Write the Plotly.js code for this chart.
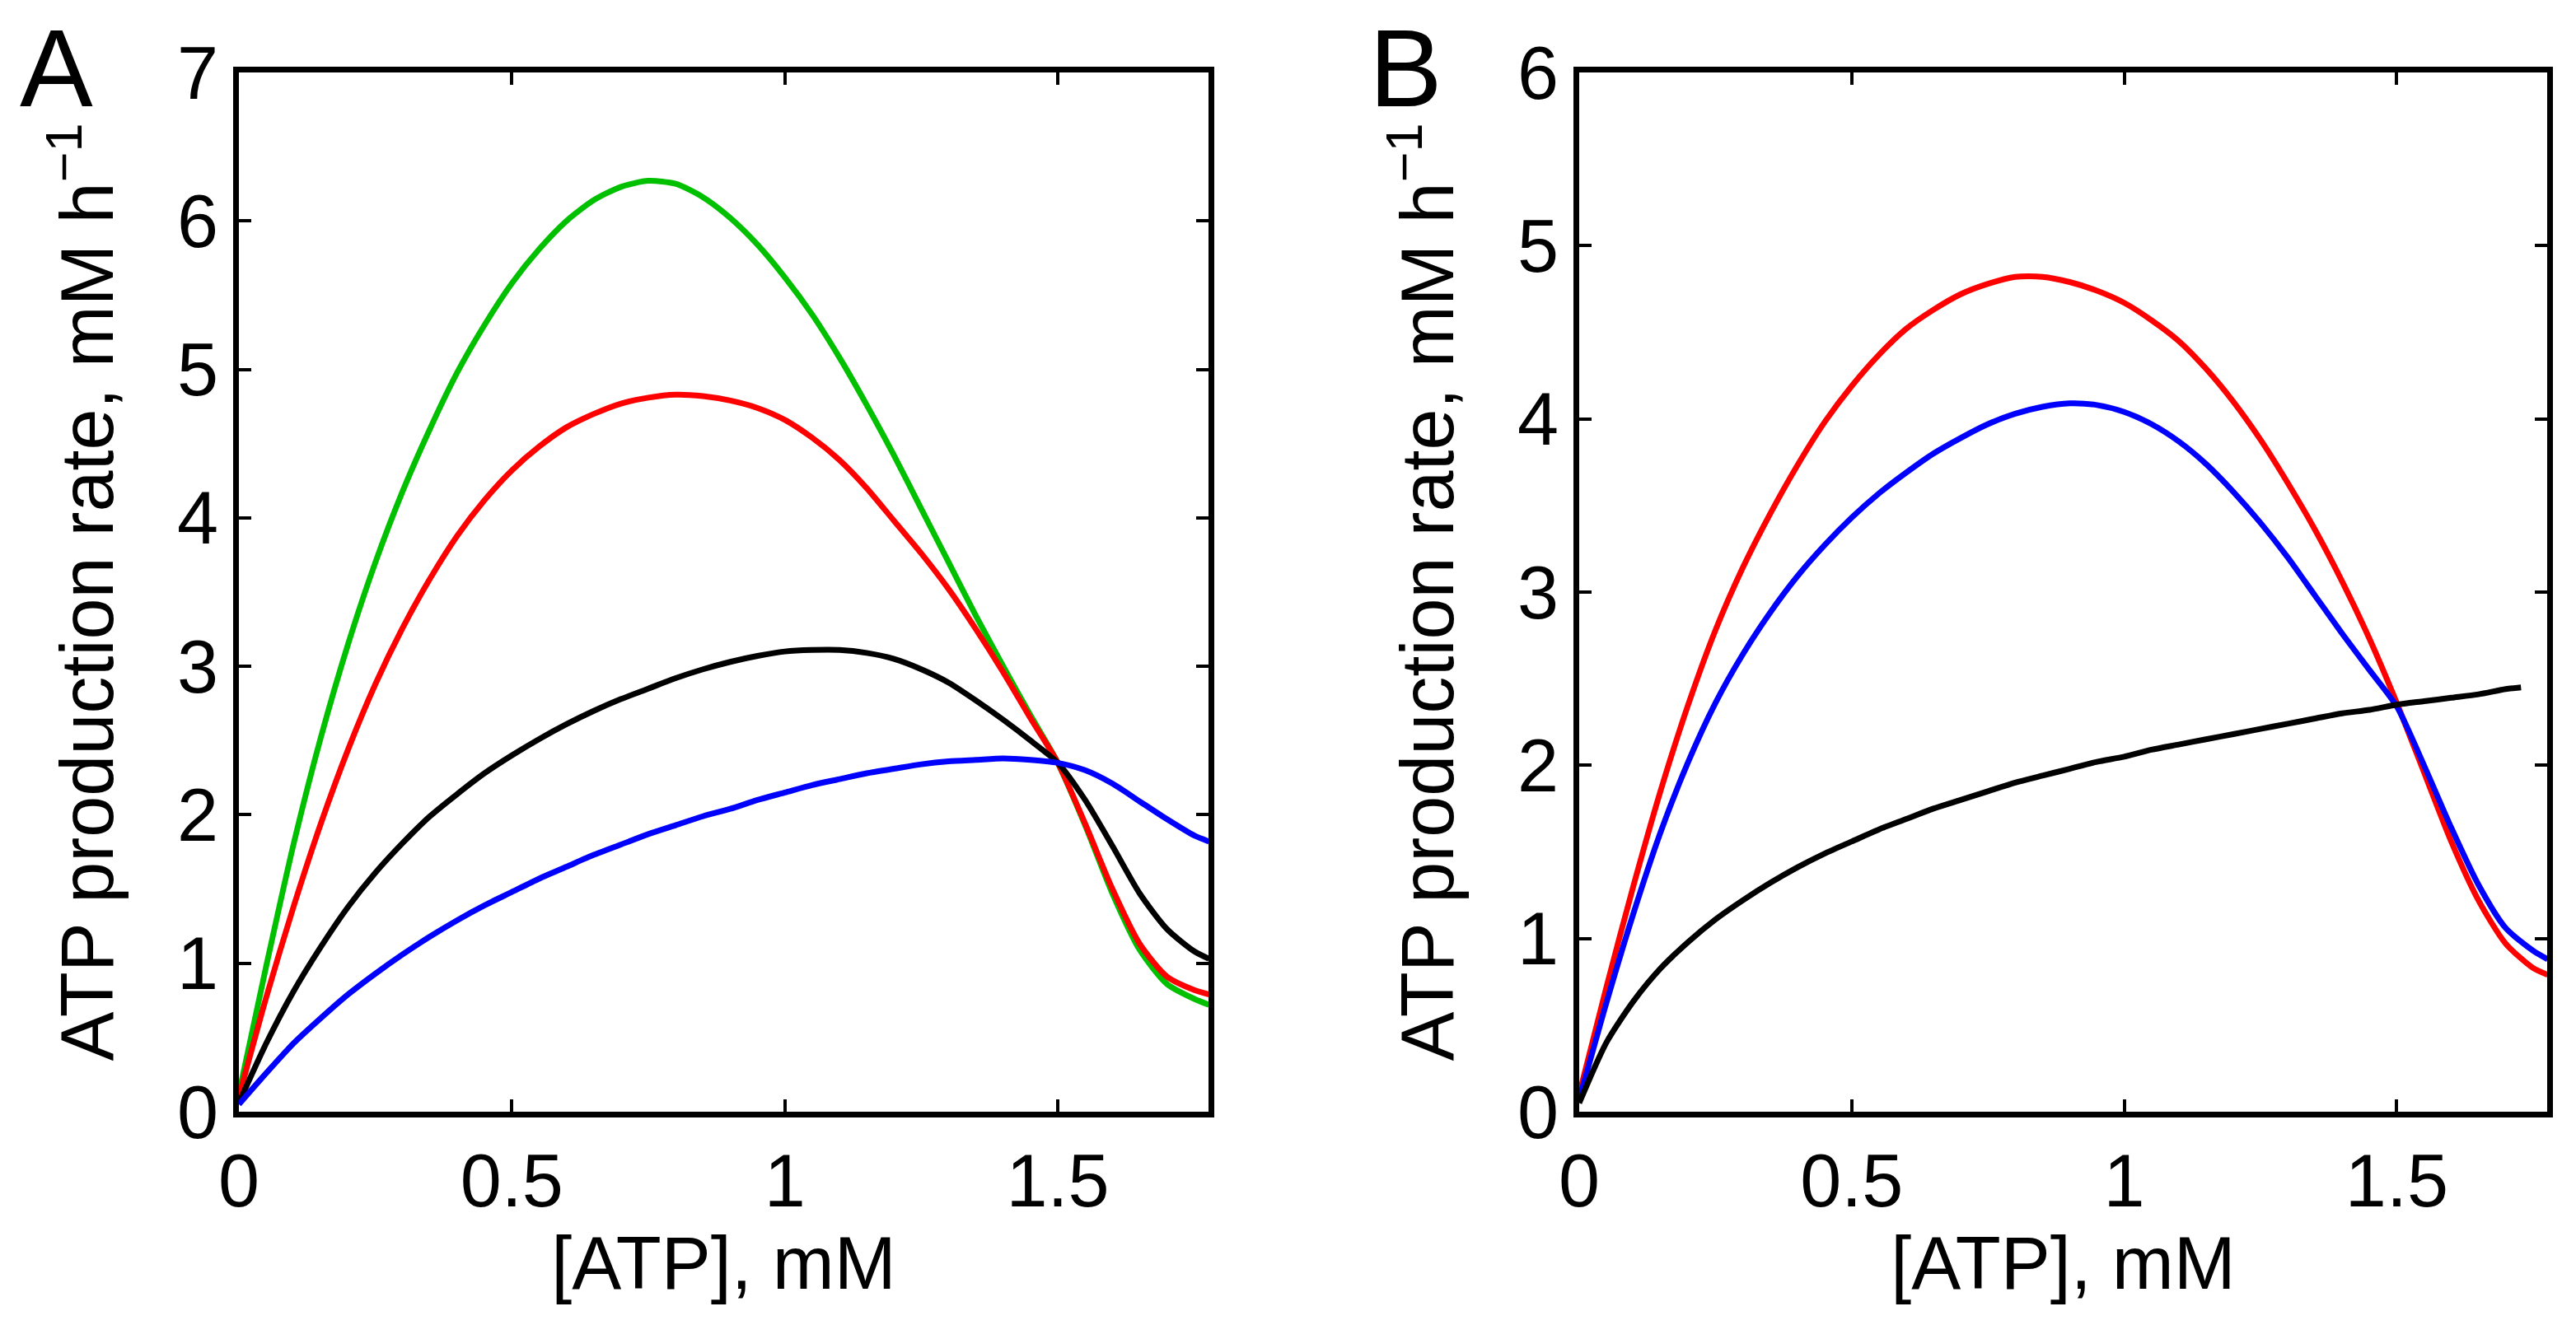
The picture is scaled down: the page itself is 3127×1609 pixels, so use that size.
<!DOCTYPE html>
<html>
<head>
<meta charset="utf-8">
<script src="https://cdn.plot.ly/plotly-3.0.1.min.js"></script>
<style>html,body{margin:0;padding:0;background:#fff;}#chart{width:3127px;height:1609px;}</style>
</head>
<body>
<div id="chart"></div>
<script>
// ---------- data ----------
const xA = [0,0.05,0.1,0.15,0.2,0.25,0.3,0.35,0.4,0.45,0.5,0.55,0.6,0.65,0.7,0.75,0.8,0.85,0.9,0.95,1.0,1.05,1.1,1.15,1.2,1.25,1.3,1.35,1.4,1.45,1.5,1.55,1.6,1.65,1.7,1.75,1.777];

const greenA = [0.12,0.98,1.8,2.52,3.15,3.7,4.18,4.6,4.98,5.3,5.58,5.81,6.0,6.14,6.23,6.27,6.25,6.16,6.02,5.84,5.62,5.37,5.08,4.76,4.42,4.06,3.7,3.34,3.0,2.67,2.35,1.93,1.47,1.09,0.86,0.76,0.72];
const redA   = [0.1,0.77,1.38,1.94,2.44,2.88,3.26,3.59,3.88,4.12,4.32,4.48,4.61,4.7,4.77,4.81,4.83,4.82,4.79,4.74,4.66,4.54,4.39,4.2,3.98,3.76,3.52,3.25,2.96,2.65,2.35,1.94,1.5,1.13,0.91,0.82,0.79];
const blackA = [0.06,0.46,0.81,1.11,1.38,1.61,1.81,1.99,2.14,2.28,2.4,2.51,2.61,2.7,2.78,2.85,2.92,2.98,3.03,3.07,3.1,3.11,3.11,3.09,3.05,2.98,2.89,2.77,2.64,2.5,2.35,2.1,1.79,1.47,1.23,1.08,1.03];
const blueA  = [0.05,0.26,0.46,0.63,0.79,0.93,1.06,1.18,1.29,1.39,1.48,1.57,1.65,1.73,1.8,1.87,1.93,1.99,2.04,2.1,2.15,2.2,2.24,2.28,2.31,2.34,2.36,2.37,2.38,2.37,2.35,2.3,2.21,2.09,1.97,1.86,1.82];

const xB = [0,0.05,0.1,0.15,0.2,0.25,0.3,0.35,0.4,0.45,0.5,0.55,0.6,0.65,0.7,0.75,0.8,0.85,0.9,0.95,1.0,1.05,1.1,1.15,1.2,1.25,1.3,1.35,1.4,1.45,1.5,1.55,1.6,1.65,1.7,1.75,1.777];
const redB  = [0.1,0.72,1.31,1.86,2.35,2.78,3.14,3.45,3.73,3.98,4.19,4.37,4.52,4.63,4.72,4.78,4.82,4.82,4.79,4.74,4.67,4.57,4.45,4.29,4.1,3.88,3.63,3.36,3.06,2.73,2.36,1.96,1.56,1.22,0.97,0.83,0.79];
const blueB = [0.07,0.63,1.15,1.62,2.02,2.36,2.64,2.88,3.09,3.27,3.43,3.57,3.69,3.8,3.89,3.97,4.03,4.07,4.09,4.08,4.04,3.97,3.87,3.74,3.58,3.4,3.2,2.98,2.76,2.55,2.34,2.0,1.64,1.31,1.06,0.93,0.88];

const xBlackB = [0,0.05,0.1,0.15,0.2,0.25,0.3,0.35,0.4,0.45,0.5,0.55,0.6,0.65,0.7,0.75,0.8,0.85,0.9,0.95,1.0,1.05,1.1,1.15,1.2,1.25,1.3,1.35,1.4,1.45,1.5,1.55,1.6,1.65,1.7,1.728];
const blackB = [0.05,0.4,0.64,0.83,0.98,1.11,1.22,1.32,1.41,1.49,1.56,1.63,1.69,1.75,1.8,1.85,1.9,1.94,1.98,2.02,2.05,2.09,2.12,2.15,2.18,2.21,2.24,2.27,2.3,2.32,2.35,2.37,2.39,2.41,2.44,2.45];

const xTickVals = [0,0.5,1,1.5];
const xTickText = ['0','0.5','1','1.5'];
const yTickValsA = [0,1,2,3,4,5,6,7];
const yTickValsB = [0,1,2,3,4,5,6];
const panelLabels = ['A','B'];
const xTitle = '[ATP], mM';
const yTitle = 'ATP production rate, mM h<sup>\u22121</sup>';

// ---------- styling ----------
const FONT = 'Liberation Sans, Arial, Helvetica, sans-serif';
const LW = 7;
const FRAME = 7;
const GREEN = 'rgb(0,192,0)';
const RED = 'rgb(255,0,0)';
const BLUE = 'rgb(0,0,255)';
const BLACK = 'rgb(0,0,0)';

function line(x, y, color, xa, ya) {
  return {x: x, y: y, type: 'scatter', mode: 'lines', xaxis: xa, yaxis: ya,
          line: {color: color, width: LW, shape: 'spline', smoothing: 0.7},
          hoverinfo: 'skip', showlegend: false};
}

const traces = [
  line(xA, greenA, GREEN, 'x', 'y'),
  line(xA, redA, RED, 'x', 'y'),
  line(xA, blackA, BLACK, 'x', 'y'),
  line(xA, blueA, BLUE, 'x', 'y'),
  line(xB, redB, RED, 'x2', 'y2'),
  line(xB, blueB, BLUE, 'x2', 'y2'),
  line(xBlackB, blackB, BLACK, 'x2', 'y2')
];

const W = 3127, H = 1609;
const ML = 290, MR = 35, MT = 88, MB = 259;
const PW = W - ML - MR, PH = H - MT - MB;
const px2x = p => (p - ML) / PW;
const py2y = p => (H - MB - p) / PH;

function xaxisDef(domain, anchor) {
  return {
    domain: domain, anchor: anchor, range: [0, 1.776],
    tickvals: xTickVals, ticktext: xTickText,
    ticks: 'inside', ticklen: 15, tickwidth: 4, tickcolor: BLACK,
    showline: true, linewidth: FRAME, linecolor: BLACK, mirror: 'ticks',
    showgrid: false, zeroline: false,
    tickfont: {family: FONT, size: 90, color: BLACK},
    title: {text: xTitle, font: {family: FONT, size: 90, color: BLACK}, standoff: 10}
  };
}
function yaxisDef(range, vals, anchor) {
  return {
    domain: [0, 1], anchor: anchor, range: range,
    tickvals: vals,
    ticks: 'inside', ticklen: 15, tickwidth: 4, tickcolor: BLACK,
    showline: true, linewidth: FRAME, linecolor: BLACK, mirror: 'ticks',
    showgrid: false, zeroline: false,
    tickfont: {family: FONT, size: 90, color: BLACK},
    title: {text: yTitle, font: {family: FONT, size: 90, color: BLACK}, standoff: 50}
  };
}

const layout = {
  width: W, height: H,
  margin: {l: ML, r: MR, t: MT, b: MB, pad: 0},
  paper_bgcolor: '#fff', plot_bgcolor: '#fff',
  showlegend: false,
  font: {family: FONT, color: BLACK},
  xaxis: xaxisDef([0, px2x(1467)], 'y'),
  yaxis: yaxisDef([0, 7], yTickValsA, 'x'),
  xaxis2: xaxisDef([px2x(1917), 1], 'y2'),
  yaxis2: yaxisDef([0, 6], yTickValsB, 'x2'),
  annotations: [
    {text: panelLabels[0], xref: 'paper', yref: 'paper', x: px2x(22), y: py2y(83),
     xanchor: 'left', yanchor: 'middle', showarrow: false,
     font: {family: FONT, size: 133, color: BLACK}},
    {text: panelLabels[1], xref: 'paper', yref: 'paper', x: px2x(1660), y: py2y(83),
     xanchor: 'left', yanchor: 'middle', showarrow: false,
     font: {family: FONT, size: 133, color: BLACK}}
  ]
};

Plotly.newPlot('chart', traces, layout, {displayModeBar: false, staticPlot: true});
</script>
</body>
</html>
